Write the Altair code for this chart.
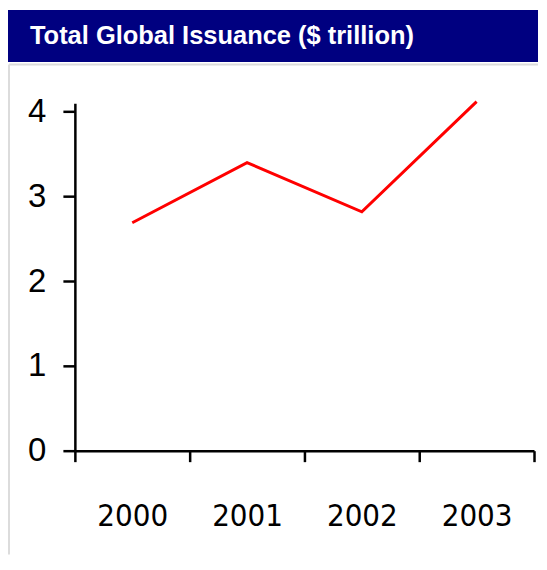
import altair as alt
import pandas as pd

# Data
years = ["2000", "2001", "2002", "2003"]
issuance = [2.69, 3.40, 2.82, 4.12]
title_text = "Total Global Issuance ($ trillion)"
y_ticks = [0, 1, 2, 3, 4]

df = pd.DataFrame({"year": years, "value": issuance})
one = pd.DataFrame({"k": [0]})

NAVY = "#000080"
BORDER = "#dcdcdc"

# Decoration: navy header bar and light panel border (drawn outside the plot area)
header = alt.Chart(one).mark_rect(color=NAVY).encode(
    x=alt.value(-67), x2=alt.value(464), y=alt.value(-93.5), y2=alt.value(-41.5)
)
header_text = alt.Chart(one).mark_text(
    text=title_text, font="Liberation Sans", fontSize=25.5, fontWeight="bold",
    color="white", align="left", baseline="alphabetic"
).encode(
    x=alt.value(-45), y=alt.value(-59.2)
)
border_h = alt.Chart(one).mark_rule(color=BORDER, strokeWidth=2).encode(
    x=alt.value(-66), x2=alt.value(464), y=alt.value(-39)
)
border_v = alt.Chart(one).mark_rule(color=BORDER, strokeWidth=2).encode(
    x=alt.value(-66), y=alt.value(-39), y2=alt.value(452)
)

line = alt.Chart(df).mark_line(color="#ff0000", strokeWidth=3).encode(
    x=alt.X(
        "year:O",
        bandPosition=0.5,
        scale=alt.Scale(type="band", paddingInner=0, paddingOuter=0),
        axis=alt.Axis(
            title=None, labelAngle=0, tickBand="extent", tickSize=11,
            tickWidth=2.5, tickColor="black", domainColor="black",
            domainWidth=2.5, labelFont="DejaVu Sans Condensed, Noto Sans",
            labelFontSize=31, labelColor="black", labelPadding=40, grid=False,
        ),
    ),
    y=alt.Y(
        "value:Q",
        scale=alt.Scale(domain=[0, 4.1], nice=False, zero=True),
        axis=alt.Axis(
            title=None, values=y_ticks, tickSize=12, tickWidth=2.5,
            tickColor="black", domainColor="black", domainWidth=2.5,
            labelFont="Liberation Sans", labelFontSize=33, labelColor="black",
            labelPadding=17, grid=False,
        ),
    ),
)

chart = alt.layer(header, header_text, border_h, border_v, line).properties(
    width=460, height=348,
    padding={"left": 0, "top": 1, "right": 0, "bottom": 0},
    background="white",
).configure_view(stroke=None)

chart.save("out.html", embed_options={"renderer": "svg", "actions": False})
